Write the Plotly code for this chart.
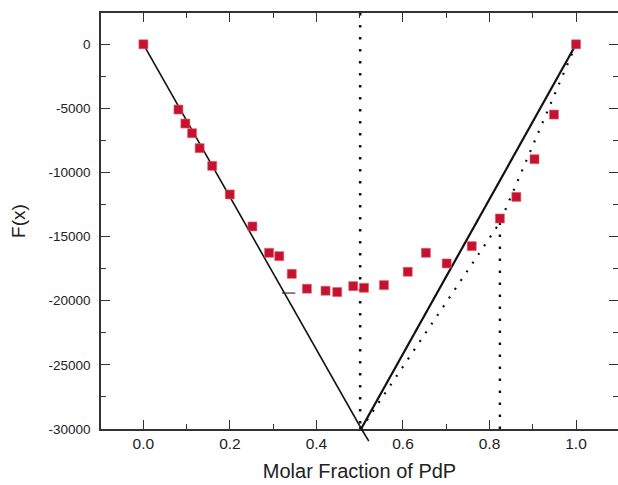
import plotly.graph_objects as go

# measured data (molar fraction of PdP, F(x))
x_pts = [0.0, 0.081, 0.097, 0.1125, 0.130, 0.159, 0.1997, 0.252, 0.2905, 0.314,
         0.343, 0.378, 0.421, 0.448, 0.485, 0.510, 0.556, 0.611, 0.653, 0.701,
         0.759, 0.824, 0.862, 0.904, 0.949, 1.0]
y_pts = [0, -5090, -6180, -6935, -8100, -9480, -11710, -14205, -16260, -16520,
         -17900, -19060, -19220, -19320, -18860, -18990, -18780, -17740, -16260, -17090,
         -15740, -13585, -11900, -8960, -5480, 0]

# solid construction lines
left_x = [0.0, 0.504]
left_y = [0, -30000]
left_ext_x = [0.504, 0.521]
left_ext_y = [-30000, -30950]
right_x = [0.503, 1.0]
right_y = [-30000, 0]

# dotted construction lines
vert1_x = [0.501, 0.501]
vert1_y = [2440, -30000]
tang_x = [0.503, 0.824, 1.0]
tang_y = [-30000, -13900, 0]
vert2_x = [0.824, 0.824]
vert2_y = [-13900, -30000]

# small stray mark in the original
dash_x = [0.32, 0.351]
dash_y = [-19400, -19400]

x_range = [-0.098, 1.097]
y_range = [-30000, 2440]

x_ticks = [0.0, 0.2, 0.4, 0.6, 0.8, 1.0]
x_labels = ["0.0", "0.2", "0.4", "0.6", "0.8", "1.0"]
y_ticks = [0, -5000, -10000, -15000, -20000, -25000, -30000]
y_labels = ["0", "-5000", "-10000", "-15000", "-20000", "-25000", "-30000"]

fig = go.Figure()
fig.add_trace(go.Scatter(x=vert1_x, y=vert1_y, mode="lines",
                         line=dict(color="#111", width=2.6, dash="2.5px,9.5px"),
                         showlegend=False, hoverinfo="skip"))
fig.add_trace(go.Scatter(x=tang_x, y=tang_y, mode="lines",
                         line=dict(color="#111", width=2.2, dash="2px,8.5px"),
                         showlegend=False, hoverinfo="skip"))
fig.add_trace(go.Scatter(x=vert2_x, y=vert2_y, mode="lines",
                         line=dict(color="#111", width=2.4, dash="2.5px,9.5px"),
                         showlegend=False, hoverinfo="skip"))
fig.add_trace(go.Scatter(x=left_x, y=left_y, mode="lines",
                         line=dict(color="#111", width=1.6),
                         showlegend=False, hoverinfo="skip"))
fig.add_trace(go.Scatter(x=right_x, y=right_y, mode="lines",
                         line=dict(color="#111", width=2.2),
                         showlegend=False, hoverinfo="skip"))
fig.add_trace(go.Scatter(x=dash_x, y=dash_y, mode="lines",
                         line=dict(color="#333", width=1.2),
                         showlegend=False, hoverinfo="skip"))
fig.add_trace(go.Scatter(x=x_pts, y=y_pts, mode="markers",
                         marker=dict(symbol="square", size=9, color="#c4122f",
                                     line=dict(color="#e0606e", width=0.6)),
                         showlegend=False))

# the left line runs a little past the bottom axis: x in data units, y in paper units
def to_paper(v):
    return (v - y_range[0]) / (y_range[1] - y_range[0])

fig.add_shape(type="line", xref="x", yref="paper",
              x0=left_ext_x[0], x1=left_ext_x[1],
              y0=to_paper(left_ext_y[0]), y1=to_paper(left_ext_y[1]),
              line=dict(color="#111", width=1.6), layer="above")

axis_common = dict(showgrid=False, zeroline=False, showline=True, linecolor="#333",
                   linewidth=1.6, mirror="allticks", ticks="inside", ticklen=9,
                   tickwidth=1.4, tickcolor="#333", automargin=False)

fig.update_layout(
    width=618, height=485,
    margin=dict(l=101, r=0, t=13, b=56),
    paper_bgcolor="white", plot_bgcolor="white",
    font=dict(family="Liberation Sans, Arial, sans-serif", color="#222"),
    xaxis=dict(range=x_range, tickvals=x_ticks, ticktext=x_labels,
               tickfont=dict(size=15.5), ticklabelstandoff=0,
               minor=dict(ticks="inside", ticklen=5, tickwidth=1.2, tickcolor="#333", dtick=0.1),
               title=dict(text="Molar Fraction of PdP", font=dict(size=20), standoff=13),
               **axis_common),
    yaxis=dict(range=y_range, tickvals=y_ticks, ticktext=y_labels,
               tickfont=dict(size=13.5), ticklabelstandoff=6,
               minor=dict(ticks="inside", ticklen=5, tickwidth=1.2, tickcolor="#333", dtick=2500),
               title=dict(text="F(x)", font=dict(size=19), standoff=18),
               **axis_common),
)

# page body without the browser's default 8px margin, so the figure fills the window
fig.write_html("out.html",
               config={"displayModeBar": False},
               post_script="document.body.style.margin='0';document.body.style.overflow='hidden';")
